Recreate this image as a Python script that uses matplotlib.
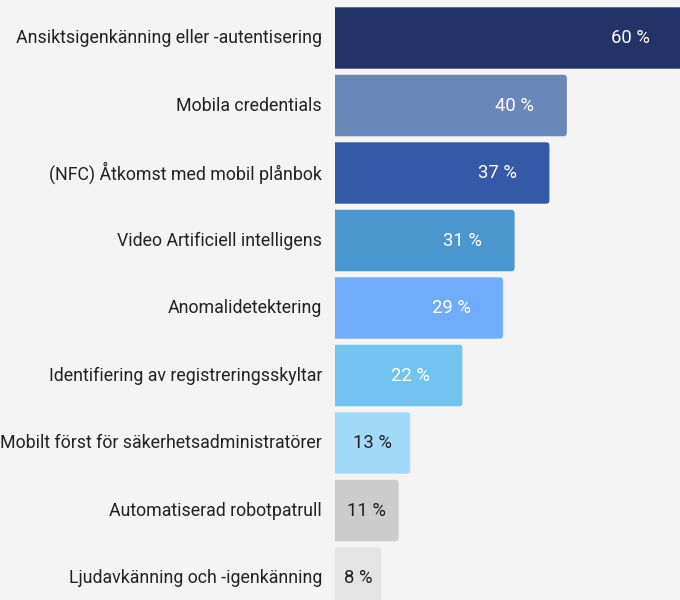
import matplotlib
matplotlib.use('Agg')
import matplotlib.pyplot as plt
from matplotlib.patches import FancyBboxPatch

# Data
categories = ['Ansiktsigenkänning eller -autentisering',
              'Mobila credentials',
              '(NFC) Åtkomst med mobil plånbok',
              'Video Artificiell intelligens',
              'Anomalidetektering',
              'Identifiering av registreringsskyltar',
              'Mobilt först för säkerhetsadministratörer',
              'Automatiserad robotpatrull',
              'Ljudavkänning och -igenkänning']
values     = [60, 40, 37, 31, 29, 22, 13, 11, 8]
colors     = ['#223368', '#6987b8', '#3459a7', '#4a97d0', '#71acfb',
              '#72c3f0', '#a3dafa', '#cccccc', '#e4e4e4']
txt_colors = ['white'] * 6 + ['#222222'] * 3

bg = '#f4f4f4'
plt.rcParams['font.family'] = ['Roboto', 'DejaVu Sans']

fig = plt.figure(figsize=(6.8, 6.0), dpi=100, facecolor=bg)
W, H = 680, 600
px_per_pct = 5.8
pitch = 67.5
ax = fig.add_axes([335 / W, 0, (W - 335) / W, 1])
ax.set_facecolor(bg)
ax.set_xlim(0, (W - 335) / px_per_pct)
ax.set_ylim(8 + (H - 578) / pitch, -38 / pitch)

bar_h = 0.915
for i, (v, c) in enumerate(zip(values, colors)):
    # rounded box, left corners hidden behind the axis edge
    rs = 3.5 / px_per_pct
    box = FancyBboxPatch((-1, i - bar_h / 2), v + 1, bar_h,
                         boxstyle=f'round,pad=0,rounding_size={rs}',
                         mutation_aspect=px_per_pct / pitch,
                         facecolor=c, linewidth=0.6, clip_on=True)
    box.set_edgecolor((1, 1, 1, 0.35))
    ax.add_patch(box)
    lx = v - min(v / 2, 9)
    ax.text(lx, i, f'{v} %', ha='center', va='center', fontsize=13.3,
            color=txt_colors[i])
    ax.text(-13 / px_per_pct, i, categories[i], ha='right', va='center',
            fontsize=12.8, color='#222222', clip_on=False)

ax.set_xticks([])
ax.set_yticks([])
for s in ax.spines.values():
    s.set_visible(False)

fig.savefig('out.png', dpi=100, facecolor=bg)
